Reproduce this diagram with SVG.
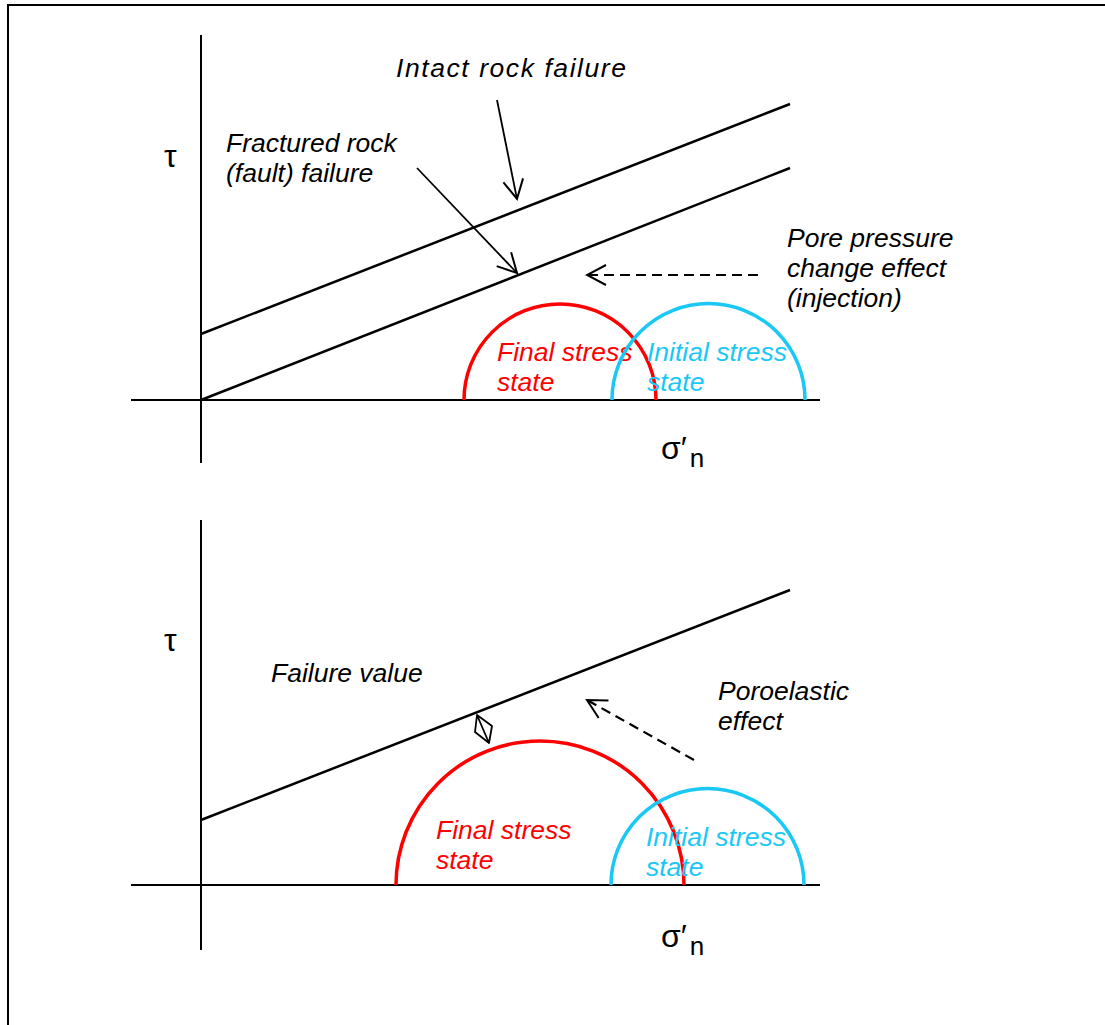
<svg xmlns="http://www.w3.org/2000/svg" width="1105" height="1025" viewBox="0 0 1105 1025">
<defs>
<marker id="vh" viewBox="-21 -12 23 24" markerWidth="23" markerHeight="24" refX="0" refY="0" orient="auto" markerUnits="userSpaceOnUse">
<path d="M-19,-10 L0,0 L-19,10" fill="none" stroke="#000" stroke-width="2"/>
</marker>
</defs>
<style>
.ax{stroke:#000;stroke-width:2;fill:none}
.fl{stroke:#000;stroke-width:2.5;fill:none}
.ar{stroke:#000;stroke-width:1.8;fill:none;marker-end:url(#vh)}
.da{stroke:#000;stroke-width:2.2;fill:none;stroke-dasharray:10 6;marker-end:url(#vh)}
.red{stroke:#ff0000;stroke-width:3.5;fill:none}
.blue{stroke:#19c8f5;stroke-width:3.5;fill:none}
.t{font-family:"Liberation Sans",Arial,sans-serif;font-size:26.5px;font-style:italic;fill:#000}
.tr{fill:#ff0000}
.tb{fill:#19c8f5}
.sym{font-family:"Liberation Sans",Arial,sans-serif;font-size:32px;fill:#000}
</style>
<rect width="1105" height="1025" fill="#fff"/>
<path d="M8,1025 L8,5 L1105,5" fill="none" stroke="#000" stroke-width="2"/>

<g id="top-chart">
<g id="top-axes">
<line class="ax" x1="201" y1="35" x2="201" y2="463"/>
<line class="ax" x1="131" y1="400" x2="820" y2="400"/>
<text class="sym" x="164" y="167">τ</text>
<text class="sym" x="661" y="459">σ′<tspan font-size="26px" dx="3" dy="8">n</tspan></text>
</g>
<g id="top-envelopes">
<line class="fl" x1="201" y1="334" x2="790" y2="104"/>
<line class="fl" x1="201" y1="400" x2="790" y2="168"/>
</g>
<g id="top-final">
<path class="red" d="M464,400 A96,96 0 0 1 656,400"/>
<text class="t tr" x="497" y="361">Final stress</text>
<text class="t tr" x="497" y="391">state</text>
</g>
<g id="top-initial">
<path class="blue" d="M612,400 A96.5,96.5 0 0 1 805,400"/>
<text class="t tb" x="647" y="361">Initial stress</text>
<text class="t tb" x="647" y="391">state</text>
</g>
<g id="top-labels">
<text class="t" x="396" y="77" textLength="230" lengthAdjust="spacing">Intact rock failure</text>
<text class="t" x="226" y="152">Fractured rock</text>
<text class="t" x="226" y="182">(fault) failure</text>
<text class="t" x="787" y="247">Pore pressure</text>
<text class="t" x="787" y="277">change effect</text>
<text class="t" x="787" y="307">(injection)</text>
</g>
</g>

<g id="bottom-chart">
<g id="bottom-axes">
<line class="ax" x1="201" y1="520" x2="201" y2="950"/>
<line class="ax" x1="131" y1="885" x2="820" y2="885"/>
<text class="sym" x="164" y="651">τ</text>
<text class="sym" x="661" y="947">σ′<tspan font-size="26px" dx="3" dy="8">n</tspan></text>
</g>
<g id="bottom-envelope">
<line class="fl" x1="201" y1="820" x2="790" y2="590"/>
</g>
<g id="bottom-final">
<path class="red" d="M396,885 A144,144 0 0 1 684,885"/>
<text class="t tr" x="436" y="839">Final stress</text>
<text class="t tr" x="436" y="869">state</text>
</g>
<g id="bottom-initial">
<path class="blue" d="M611,885 A96.5,96.5 0 0 1 804,885"/>
<text class="t tb" x="646" y="846">Initial stress</text>
<text class="t tb" x="646" y="876">state</text>
</g>
<g id="bottom-labels">
<text class="t" x="271" y="682">Failure value</text>
<text class="t" x="718" y="700">Poroelastic</text>
<text class="t" x="718" y="730">effect</text>
</g>
</g>

<g id="connectors">
<line class="ar" x1="497" y1="100" x2="517" y2="199"/>
<line class="ar" x1="417" y1="168" x2="517" y2="273"/>
<line class="da" x1="758" y1="275" x2="587" y2="275"/>
<line class="da" x1="694" y1="760" x2="587" y2="700"/>
<path d="M477,715 L489,743 M477,715 L492,726 L489,743 L475,732 Z" fill="none" stroke="#000" stroke-width="1.8" stroke-linejoin="round"/>
</g>
</svg>
